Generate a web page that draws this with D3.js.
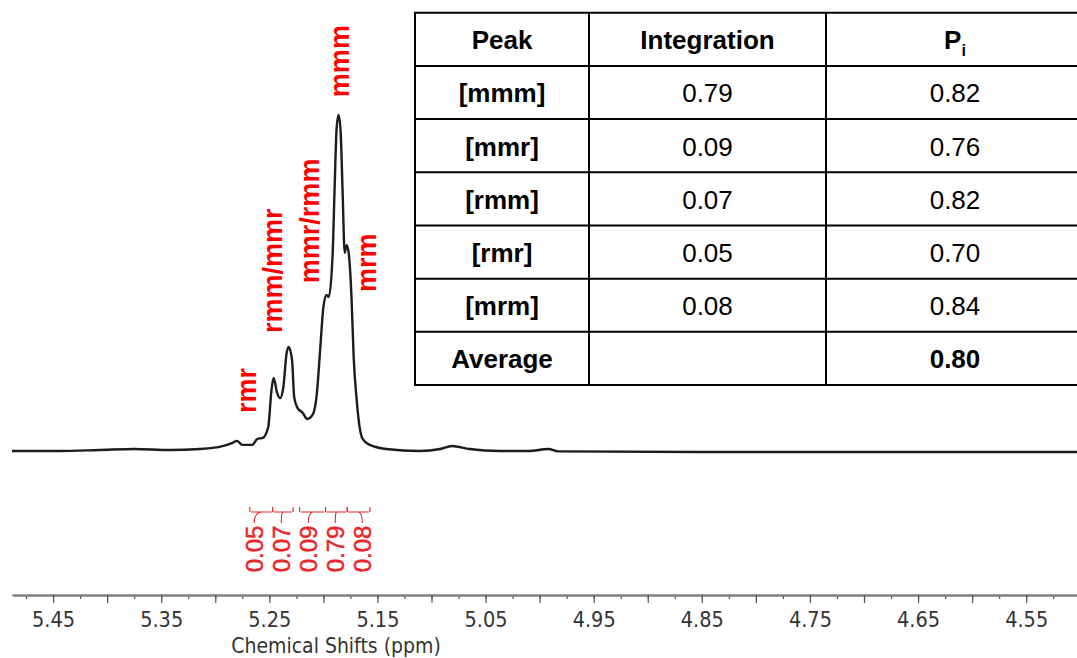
<!DOCTYPE html>
<html>
<head>
<meta charset="utf-8">
<script src="https://cdn.jsdelivr.net/npm/d3@7"></script>
<style>
  body { margin: 0; background: #fff; }
</style>
</head>
<body>
<div id="chart"></div>
<script>
var WD = 1077, HT = 658

// spectrum trace: [ppm, intensity, mmm peak = 100]
var spectrum = [
  [5.488, 0.3], [5.444, 0.3], [5.407, 0.6], [5.375, 0.9], [5.342, 0.6],
  [5.314, 0.9], [5.296, 1.5], [5.284, 2.7], [5.280, 3.3], [5.275, 2.1],
  [5.266, 2.1], [5.261, 3.9], [5.256, 4.2], [5.251, 7.4], [5.248, 18.4],
  [5.246, 22.0], [5.243, 17.8], [5.240, 16.0], [5.237, 19.3], [5.234, 29.4],
  [5.232, 31.2], [5.229, 27.3], [5.227, 16.3], [5.224, 13.1], [5.219, 11.6],
  [5.215, 9.8], [5.210, 11.0], [5.206, 17.5], [5.203, 30.3], [5.200, 43.0],
  [5.197, 46.6], [5.195, 46.0], [5.1914, 59.1], [5.1896, 78.6], [5.1877, 96.4],
  [5.1859, 100], [5.1840, 94.7], [5.1822, 76.9], [5.1803, 59.1], [5.1785, 61.4],
  [5.1766, 59.1], [5.1739, 45.1], [5.1720, 28.2], [5.1692, 15.4], [5.1665, 7.4],
  [5.1637, 3.9], [5.157, 2.1], [5.142, 0.9], [5.111, 0.3], [5.092, 0.9],
  [5.081, 1.8], [5.065, 0.9], [5.037, 0.3], [5.010, 0.3], [4.992, 0.9],
  [4.983, 0.2], [4.853, 0.0], [4.668, 0.0], [4.503, 0.0]
]

var peakLabels   = ["rmr", "rmm/mmr", "mmr/rmm", "mmm", "mrm"]
var peakLabelPpm = [5.262, 5.238, 5.204, 5.176, 5.151]
var peakLabelInt = [11.6, 35.3, 50.1, 105.3, 47.5]

var integrals    = ["0.05", "0.07", "0.09", "0.79", "0.08"]
var integralFrom = [5.268, 5.247, 5.222, 5.198, 5.178]
var integralTo   = [5.247, 5.228, 5.198, 5.178, 5.157]

var tickLabels = [5.45, 5.35, 5.25, 5.15, 5.05, 4.95, 4.85, 4.75, 4.65, 4.55]

var tableHead        = ["Peak", "Integration", "P"]
var tablePeaks       = ["[mmm]", "[mmr]", "[rmm]", "[rmr]", "[mrm]", "Average"]
var tableIntegration = ["0.79", "0.09", "0.07", "0.05", "0.08", ""]
var tablePi          = ["0.82", "0.76", "0.82", "0.70", "0.84", "0.80"]

var svg = d3.select("#chart").append("svg")
    .attr("width", WD)
    .attr("height", HT)
    .style("display", "block")

var x = d3.scaleLinear().domain([5.488, 4.503]).range([12, 1077])
var y = d3.scaleLinear().domain([0, 100]).range([452, 115])

// spectrum
var line = d3.line()
    .x(function(d) { return x(d[0]) })
    .y(function(d) { return y(d[1]) })
    .curve(d3.curveMonotoneX)

svg.append("path")
    .datum(spectrum)
    .attr("d", line)
    .attr("fill", "none")
    .attr("stroke", "#1c1c1c")
    .attr("stroke-width", 2.4)
    .attr("stroke-linejoin", "round")

// peak assignments
svg.selectAll(".peak-label")
  .data(peakLabels)
  .enter().append("text")
    .attr("class", "peak-label")
    .attr("transform", function(d, i) {
      return "translate(" + x(peakLabelPpm[i]) + "," + y(peakLabelInt[i]) + ") rotate(-90)"
    })
    .attr("text-anchor", "start")
    .style("font-family", "'Liberation Sans', Arial, sans-serif")
    .style("font-weight", "bold")
    .style("font-size", "27px")
    .style("fill", "#ff0000")
    .text(function(d) { return d })

// integrals
var intCenters = integrals.map(function(d, i) { return (x(integralFrom[i]) + x(integralTo[i])) / 2 })
var intMean = d3.mean(intCenters)
var labelX = integrals.map(function(d, i) { return intMean - 2 + (i - 2) * 27 })

var gi = svg.append("g").attr("class", "integrals")
integrals.forEach(function(d, i) {
  var x0 = x(integralFrom[i]), x1 = x(integralTo[i]), cx = intCenters[i], lx = labelX[i]
  var p = d3.path()
  p.moveTo(x0, 507); p.lineTo(x0, 512)
  p.moveTo(x1, 507); p.lineTo(x1, 512)
  p.moveTo(x0 + 1, 512); p.lineTo(x1 - 1, 512)
  p.moveTo(cx, 512); p.quadraticCurveTo(lx, 513, lx, 523)
  gi.append("path")
    .attr("d", p.toString())
    .attr("fill", "none")
    .attr("stroke", "#e8262b")
    .attr("stroke-width", 1.1)
  gi.append("text")
    .attr("transform", "translate(" + (lx + 8.5) + ",549) rotate(-90)")
    .attr("text-anchor", "middle")
    .style("font-family", "'Liberation Sans', Arial, sans-serif")
    .style("font-size", "24px")
    .style("fill", "#e8262b")
    .style("stroke", "#e8262b")
    .style("stroke-width", 0.5)
    .text(d)
})

// x axis
var minorTicks = d3.range(0, 40).map(function(i) { return +(5.475 - i * 0.025).toFixed(3) })
    .filter(function(v) { return x(v) <= WD })
var majorTicks = minorTicks.filter(function(v, i) { return i % 2 === 1 })

var axisG = svg.append("g").attr("transform", "translate(0,595)")

axisG.append("g")
    .call(d3.axisBottom(x).tickValues(minorTicks).tickSize(4).tickSizeOuter(0).tickFormat(""))
axisG.append("g")
    .call(d3.axisBottom(x).tickValues(majorTicks).tickSize(8).tickSizeOuter(0).tickPadding(9)
      .tickFormat(function(v) {
        return tickLabels.some(function(t) { return Math.abs(t - v) < 1e-6 }) ? v.toFixed(2) : ""
      }))

axisG.selectAll(".domain").attr("stroke", "#808080").attr("stroke-width", 2)
axisG.selectAll(".tick line").attr("stroke", "#555").attr("stroke-width", 1.2)
axisG.selectAll(".tick text")
    .style("font-family", "'DejaVu Sans Condensed', 'DejaVu Sans', sans-serif")
    .style("font-stretch", "condensed")
    .style("font-size", "21.5px")
    .style("fill", "#333")

svg.append("text")
    .attr("x", 336)
    .attr("y", 653)
    .attr("text-anchor", "middle")
    .style("font-family", "'DejaVu Sans Condensed', 'DejaVu Sans', sans-serif")
    .style("font-stretch", "condensed")
    .style("font-size", "21px")
    .style("fill", "#333")
    .text("Chemical Shifts (ppm)")

// table
var colEdges = [415, 589, 826, 1084]
var rowScale = d3.scaleBand().domain(d3.range(7)).range([12.7, 385])
var tableRows = [tableHead].concat(tablePeaks.map(function(d, i) {
  return [d, tableIntegration[i], tablePi[i]]
}))

var tg = svg.append("g").attr("class", "table")
tg.append("rect")
    .attr("x", colEdges[0]).attr("y", rowScale.range()[0])
    .attr("width", colEdges[3] - colEdges[0])
    .attr("height", rowScale.range()[1] - rowScale.range()[0])
    .attr("fill", "#fff")

tableRows.forEach(function(row, r) {
  var cy = rowScale(r) + rowScale.bandwidth() / 2
  row.forEach(function(cell, c) {
    var cx = (colEdges[c] + colEdges[c + 1]) / 2
    var bold = r === 0 || c === 0 || (r === 6 && c === 2)
    var t = tg.append("text")
        .attr("x", cx)
        .attr("y", cy + 10)
        .attr("text-anchor", "middle")
        .style("font-family", "'Liberation Sans', Arial, sans-serif")
        .style("font-size", "26px")
        .style("font-weight", bold ? "bold" : "normal")
        .style("fill", "#000")
        .text(cell)
    if (r === 0 && c === 2) {
      t.append("tspan").attr("dy", 7).style("font-size", "16px").text("i")
    }
  })
})

rowScale.domain().concat([7]).forEach(function(r) {
  var yy = r === 7 ? rowScale.range()[1] : rowScale(r)
  tg.append("line")
      .attr("x1", colEdges[0] - 1).attr("x2", colEdges[3])
      .attr("y1", yy).attr("y2", yy)
      .attr("stroke", "#000").attr("stroke-width", 2)
})
colEdges.forEach(function(cx) {
  tg.append("line")
      .attr("x1", cx).attr("x2", cx)
      .attr("y1", rowScale.range()[0]).attr("y2", rowScale.range()[1])
      .attr("stroke", "#000").attr("stroke-width", 2)
})
</script>
</body>
</html>
